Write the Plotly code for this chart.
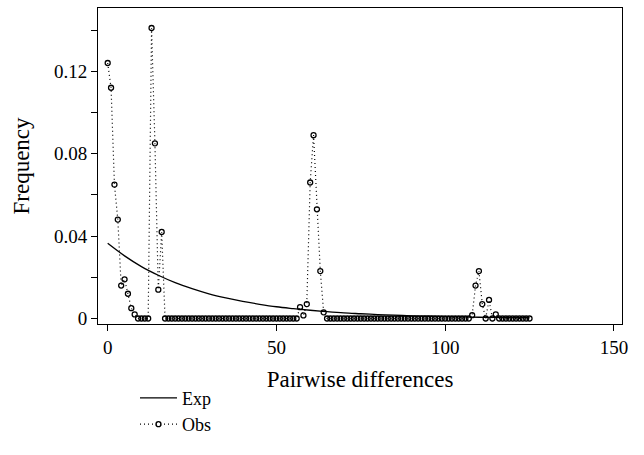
import plotly.graph_objects as go

# Observed pairwise-difference frequencies (x = 0..125)
obs_x = list(range(0, 126))
obs_y = [
    0.124, 0.112, 0.065, 0.048, 0.016, 0.019, 0.012, 0.005, 0.002, 0.0,      # 0-9
    0.0, 0.0, 0.0, 0.141, 0.085, 0.014, 0.042, 0.0, 0.0, 0.0,               # 10-19
    0.0, 0.0, 0.0, 0.0, 0.0, 0.0, 0.0, 0.0, 0.0, 0.0,                       # 20-29
    0.0, 0.0, 0.0, 0.0, 0.0, 0.0, 0.0, 0.0, 0.0, 0.0,                       # 30-39
    0.0, 0.0, 0.0, 0.0, 0.0, 0.0, 0.0, 0.0, 0.0, 0.0,                       # 40-49
    0.0, 0.0, 0.0, 0.0, 0.0, 0.0, 0.0, 0.0055, 0.0015, 0.007,               # 50-59
    0.066, 0.089, 0.053, 0.023, 0.003, 0.0, 0.0, 0.0, 0.0, 0.0,             # 60-69
    0.0, 0.0, 0.0, 0.0, 0.0, 0.0, 0.0, 0.0, 0.0, 0.0,                       # 70-79
    0.0, 0.0, 0.0, 0.0, 0.0, 0.0, 0.0, 0.0, 0.0, 0.0,                       # 80-89
    0.0, 0.0, 0.0, 0.0, 0.0, 0.0, 0.0, 0.0, 0.0, 0.0,                       # 90-99
    0.0, 0.0, 0.0, 0.0, 0.0, 0.0, 0.0, 0.0, 0.0016, 0.016,                  # 100-109
    0.023, 0.007, 0.0, 0.009, 0.0, 0.002, 0.0, 0.0, 0.0, 0.0,               # 110-119
    0.0, 0.0, 0.0, 0.0, 0.0, 0.0,                                           # 120-125
]

# Expected (smooth curve) read at every 5 units
exp_x = [0, 5, 10, 15, 20, 25, 30, 35, 40, 45, 50, 55, 60, 65, 70, 75, 80,
         85, 90, 95, 100, 105, 110, 115, 120, 125]
exp_y = [0.0365, 0.0304, 0.0252, 0.0210, 0.0174, 0.0145, 0.0120, 0.0100,
         0.0083, 0.0069, 0.0057, 0.0048, 0.0040, 0.0033, 0.0027, 0.0023,
         0.0019, 0.0016, 0.0013, 0.0011, 0.0009, 0.0008, 0.0006, 0.0005,
         0.0004, 0.0004]

y_tickvals = [0, 0.02, 0.04, 0.06, 0.08, 0.10, 0.12, 0.14]
y_ticktext = ["0", "", "0.04", "", "0.08", "", "0.12", ""]
x_tickvals = [0, 50, 100, 150]
x_ticktext = ["0", "50", "100", "150"]

FONT = "Liberation Serif, Times New Roman, serif"

fig = go.Figure()
fig.add_trace(go.Scatter(
    x=exp_x, y=exp_y, mode="lines", name="Exp",
    line=dict(color="black", width=1.3, shape="spline"),
))
fig.add_trace(go.Scatter(
    x=obs_x, y=obs_y, mode="lines+markers", name="Obs",
    line=dict(color="black", width=1.2, dash="1px,3px"),
    marker=dict(symbol="circle-open", size=5, color="black",
                line=dict(color="black", width=1.3)),
))

fig.update_layout(
    width=644, height=455,
    margin=dict(l=98, r=22, t=8, b=131),
    paper_bgcolor="white", plot_bgcolor="white",
    font=dict(family=FONT, size=19, color="black"),
    showlegend=True,
    legend=dict(
        x=0.0706, y=-0.176, xanchor="left", yanchor="top",
        bgcolor="rgba(0,0,0,0)", font=dict(family=FONT, size=18),
        tracegroupgap=0, itemwidth=37,
    ),
    xaxis=dict(
        range=[-2.87, 152.4], tickvals=x_tickvals, ticktext=x_ticktext,
        ticks="outside", ticklen=6, tickwidth=1, tickcolor="black",
        showline=True, linecolor="black", linewidth=1, mirror=True,
        showgrid=False, zeroline=False,
        title=dict(text="Pairwise differences", standoff=14),
    ),
    yaxis=dict(
        range=[-0.00267, 0.1507], tickvals=y_tickvals, ticktext=y_ticktext,
        ticks="outside", ticklen=6, tickwidth=1, tickcolor="black",
        showline=True, linecolor="black", linewidth=1, mirror=True,
        showgrid=False, zeroline=False,
        title=dict(text="Frequency", standoff=17),
    ),
)

fig.write_html("out.html")
